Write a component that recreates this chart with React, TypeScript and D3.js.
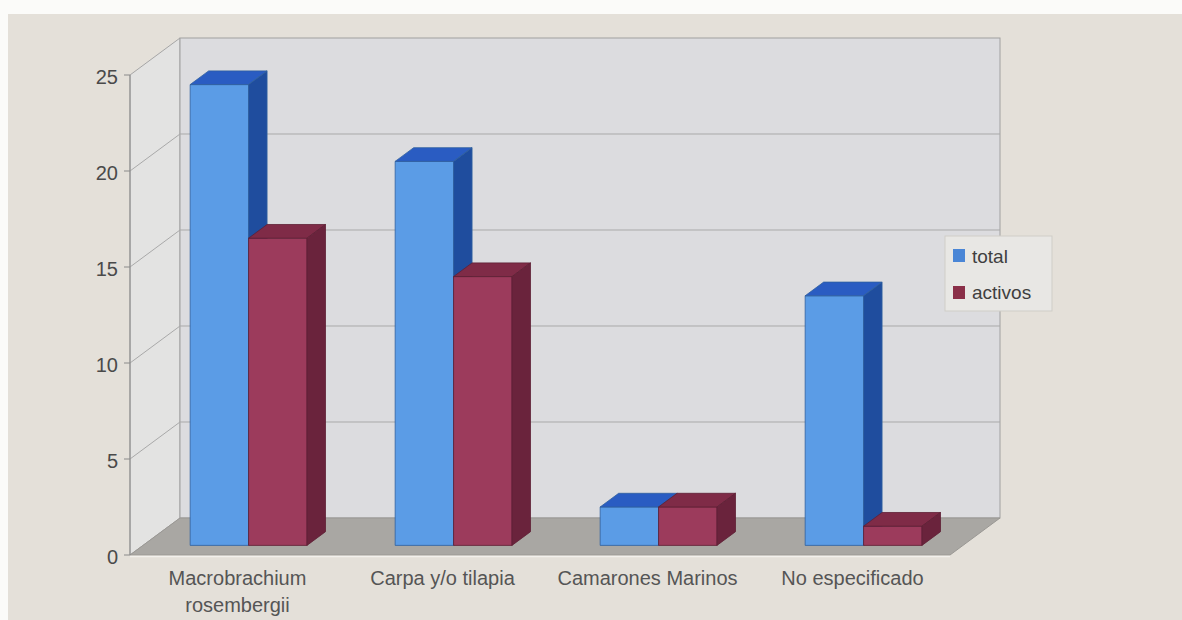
import React from "react";
import * as d3 from "d3";

const categories = ["Macrobrachium|rosembergii", "Carpa y/o tilapia", "Camarones Marinos", "No especificado"];
const seriesNames = ["total", "activos"];
const totalValues = [24, 20, 2, 13];
const activosValues = [16, 14, 2, 1];
const yTicks = [0, 5, 10, 15, 20, 25];

const W = 1182, H = 620;
const FX0 = 130, FX1 = 950, FY0 = 555, FY1 = 75;
const DX = 50, DY = -37;
const D0 = 0.26, D1 = 0.63;

const faceColors = [
  { front: "#5b9ce6", top: "#2a5cc2", side: "#1f4d9e", stroke: "#2f5f9e", legend: "#4a86d6" },
  { front: "#9c3b5c", top: "#7f2b47", side: "#6a233c", stroke: "#5e1f35", legend: "#8a2f48" },
];

export default function App() {
  const y = d3.scaleLinear().domain([0, 25]).range([FY0, FY1]);
  const x = d3.scaleBand<string>().domain(categories).range([FX0, FX1]).padding(0);
  const inner = d3
    .scaleBand<number>()
    .domain([0, 1])
    .range([x.bandwidth() * 0.23, x.bandwidth() * 0.8])
    .padding(0);
  const series = [totalValues, activosValues];

  const off = (d: number) => [DX * d, DY * d];
  const [b0x, b0y] = off(D0);
  const [b1x, b1y] = off(D1);
  const pts = (arr: number[][]) => arr.map((p) => p.join(",")).join(" ");

  const bars: React.ReactNode[] = [];
  categories.forEach((c, ci) => {
    series.forEach((vals, si) => {
      const v = vals[ci];
      const xl = (x(c) as number) + (inner(si) as number) + b0x;
      const xr = xl + inner.bandwidth();
      const yb = y(0) + b0y;
      const yt = y(v) + b0y;
      const ddx = b1x - b0x, ddy = b1y - b0y;
      const col = faceColors[si];
      bars.push(
        <g key={`${ci}-${si}`} strokeWidth={0.8} stroke={col.stroke}>
          <polygon points={pts([[xl, yb], [xr, yb], [xr, yt], [xl, yt]])} fill={col.front} />
          <polygon points={pts([[xl, yt], [xr, yt], [xr + ddx, yt + ddy], [xl + ddx, yt + ddy]])} fill={col.top} />
          <polygon points={pts([[xr, yb], [xr + ddx, yb + ddy], [xr + ddx, yt + ddy], [xr, yt]])} fill={col.side} />
        </g>
      );
    });
  });

  const font = "'Liberation Sans', Arial, sans-serif";

  return (
    <svg width={W} height={H} style={{ position: "absolute", left: 0, top: 0 }} fontFamily={font}>
      <rect x={0} y={0} width={W} height={H} fill="#fbfbf9" />
      <rect x={8} y={14} width={W - 8} height={H - 14} fill="#e4e0d9" />
      {/* side wall */}
      <polygon
        points={pts([[FX0, FY1], [FX0 + DX, FY1 + DY], [FX0 + DX, FY0 + DY], [FX0, FY0]])}
        fill="#e3e3e2"
        stroke="#a6a6a6"
      />
      {/* back wall */}
      <rect x={FX0 + DX} y={FY1 + DY} width={FX1 - FX0} height={FY0 - FY1} fill="#dcdcdf" stroke="#a0a0a0" />
      {/* gridlines */}
      {yTicks.filter((t) => t > 0 && t < 25).map((t) => (
        <g key={t} stroke="#a9a9a9" strokeWidth={1}>
          <line x1={FX0} y1={y(t)} x2={FX0 + DX} y2={y(t) + DY} />
          <line x1={FX0 + DX} y1={y(t) + DY} x2={FX1 + DX} y2={y(t) + DY} />
        </g>
      ))}
      {/* floor */}
      <polygon
        points={pts([[FX0, FY0], [FX1, FY0], [FX1 + DX, FY0 + DY], [FX0 + DX, FY0 + DY]])}
        fill="#a9a7a3"
        stroke="#9a9894"
      />
      <line x1={FX0} y1={FY0 + 1.5} x2={FX1} y2={FY0 + 1.5} stroke="#f2f0ec" strokeWidth={1.5} />
      {/* y axis */}
      <line x1={FX0} y1={FY1} x2={FX0} y2={FY0} stroke="#8a8a8a" />
      {yTicks.map((t) => (
        <g key={t}>
          <line x1={FX0 - 6} y1={y(t)} x2={FX0} y2={y(t)} stroke="#8a8a8a" />
          <text x={118} y={y(t) + 2} dy="0.35em" textAnchor="end" fontSize={20} fill="#4a4a4a">
            {t}
          </text>
        </g>
      ))}
      {bars}
      {/* category labels */}
      {categories.map((c) => {
        const cx = (x(c) as number) + x.bandwidth() / 2 + 5;
        const lines = c.split("|");
        return (
          <text key={c} x={cx} y={585} textAnchor="middle" fontSize={20} fill="#555">
            {lines.map((l, i) => (
              <tspan key={i} x={cx} dy={i === 0 ? 0 : 27}>
                {l}
              </tspan>
            ))}
          </text>
        );
      })}
      {/* legend */}
      <rect x={945} y={236} width={107} height={75} fill="#e8e7e4" stroke="#cfcdc8" />
      {seriesNames.map((s, i) => (
        <g key={s}>
          <rect x={953} y={249 + i * 37} width={12} height={13} fill={faceColors[i].legend} />
          <text x={972} y={263 + i * 36} fontSize={19} fill="#3f3f3f">
            {s}
          </text>
        </g>
      ))}
    </svg>
  );
}
